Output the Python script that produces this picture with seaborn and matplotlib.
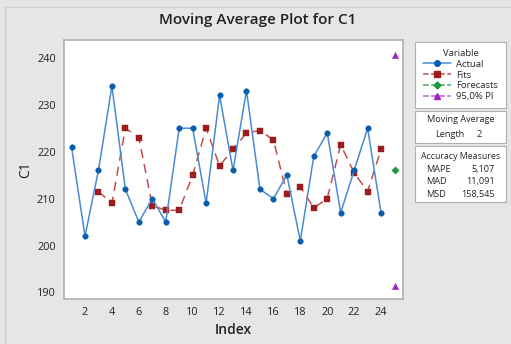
import numpy as np
import pandas as pd
import matplotlib.pyplot as plt
from matplotlib.patches import Rectangle
from matplotlib.lines import Line2D
import seaborn as sns

index = list(range(1, 25))
actual = [221, 202, 216, 234, 212, 205, 210, 205, 225, 225, 209, 232,
          216, 233, 212, 210, 215, 201, 219, 224, 207, 216, 225, 207]
fit_index = list(range(3, 25))
fits = [211.5, 209, 225, 223, 208.5, 207.5, 207.5, 215, 225, 217, 220.5,
        224, 224.5, 222.5, 211, 212.5, 208, 210, 221.5, 215.5, 211.5, 220.5]
fc_index = [25]
forecast = [216]
pi_index = [25, 25]
pi_values = [240.68, 191.32]

accuracy_names = ['MAPE', 'MAD', 'MSD']
accuracy_values = ['5,107', '11,091', '158,545']

sns.set_style('white')
plt.rcParams['font.family'] = ['Open Sans', 'DejaVu Sans']

blue = '#0a5cad'
red = '#9b1c1c'
green = '#1a9a3a'
purple = '#a020c8'
edge = '#b0b0b0'

fig = plt.figure(figsize=(5.11, 3.44), dpi=100)
fig.patch.set_facecolor('#e6e6e6')
fig.patches.append(Rectangle((5 / 511, 0), 1, 1 - 7 / 344, transform=fig.transFigure,
                             fill=False, edgecolor='#d0d0d0', lw=1))

ax = fig.add_axes([64 / 511, 45 / 344, 339 / 511, 259 / 344])
df_a = pd.DataFrame({'Index': index, 'C1': actual})
df_f = pd.DataFrame({'Index': fit_index, 'C1': fits})

sns.lineplot(data=df_f, x='Index', y='C1', ax=ax, color='#c05050', lw=1.1,
             dashes=False, linestyle=(0, (6, 4)), zorder=2)
sns.scatterplot(data=df_f, x='Index', y='C1', ax=ax, color=red, marker='s',
                s=15, edgecolor=red, zorder=3)
sns.lineplot(data=df_a, x='Index', y='C1', ax=ax, color='#4a8ad4', lw=1.1, zorder=4)
sns.scatterplot(data=df_a, x='Index', y='C1', ax=ax, color=blue, marker='o',
                s=16, edgecolor=blue, zorder=5)
sns.scatterplot(x=fc_index, y=forecast, ax=ax, color=green, marker='D', s=14,
                edgecolor=green, zorder=5)
sns.scatterplot(x=pi_index, y=pi_values, ax=ax, color=purple, marker='^', s=20,
                edgecolor=purple, zorder=5)

ax.set_xlim(0.44, 25.63)
ax.set_ylim(188.6, 243.8)
ax.set_xticks(range(2, 25, 2))
ax.set_yticks(range(190, 241, 10))
ax.tick_params(axis='both', direction='out', length=3, width=0.8, color=edge,
               labelsize=7.8, labelcolor='#222222', pad=3)
for s in ax.spines.values():
    s.set_color(edge)
    s.set_linewidth(1.2)
ax.set_xlabel('Index', fontsize=10, fontweight='semibold', color='#222222', labelpad=3)
ax.set_ylabel('C1', fontsize=10, color='#222222', labelpad=3)
fig.text(0.505, 0.942, 'Moving Average Plot for C1', ha='center', va='center',
         fontsize=11, fontweight='semibold', color='#222222')

# legend box
lax = fig.add_axes([415 / 511, (344 - 108) / 344, 91 / 511, 66 / 344])
lax.set_xticks([])
lax.set_yticks([])
for s in lax.spines.values():
    s.set_color(edge)
handles = [
    Line2D([], [], color='#4a8ad4', marker='o', mfc=blue, mec=blue, ms=4, lw=1.1),
    Line2D([], [], color='#c05050', marker='s', mfc=red, mec=red, ms=4, lw=1.1, ls='--'),
    Line2D([], [], color='#40b060', marker='D', mfc=green, mec=green, ms=3.5, lw=1.1, ls='--'),
    Line2D([], [], color='#c060d8', marker='^', mfc=purple, mec=purple, ms=4, lw=1.1, ls='--'),
]
leg = lax.legend(handles, ['Actual', 'Fits', 'Forecasts', '95,0% PI'], title='Variable',
                 loc='center', frameon=False, fontsize=6.8, title_fontsize=6.8,
                 handlelength=3.0, labelspacing=0.2, borderpad=0.2, handletextpad=0.5)

# moving average box
max_ = fig.add_axes([415 / 511, (344 - 143) / 344, 91 / 511, 32 / 344])
max_.set_xticks([])
max_.set_yticks([])
for s in max_.spines.values():
    s.set_color(edge)
max_.text(0.5, 0.72, 'Moving Average', ha='center', va='center', fontsize=6.6,
          transform=max_.transAxes)
max_.text(0.38, 0.28, 'Length', ha='center', va='center', fontsize=6.6,
          transform=max_.transAxes)
max_.text(0.7, 0.28, '2', ha='center', va='center', fontsize=6.6,
          transform=max_.transAxes)

# accuracy box
aax = fig.add_axes([415 / 511, (344 - 202) / 344, 91 / 511, 56 / 344])
aax.set_xticks([])
aax.set_yticks([])
for s in aax.spines.values():
    s.set_color(edge)
aax.text(0.5, 0.82, 'Accuracy Measures', ha='center', va='center', fontsize=6.3,
         transform=aax.transAxes)
for i, (n, v) in enumerate(zip(accuracy_names, accuracy_values)):
    yy = 0.58 - i * 0.22
    aax.text(0.12, yy, n, ha='left', va='center', fontsize=6.6, transform=aax.transAxes)
    aax.text(0.88, yy, v, ha='right', va='center', fontsize=6.6, transform=aax.transAxes)

fig.savefig('out.png', dpi=100, facecolor=fig.get_facecolor())
